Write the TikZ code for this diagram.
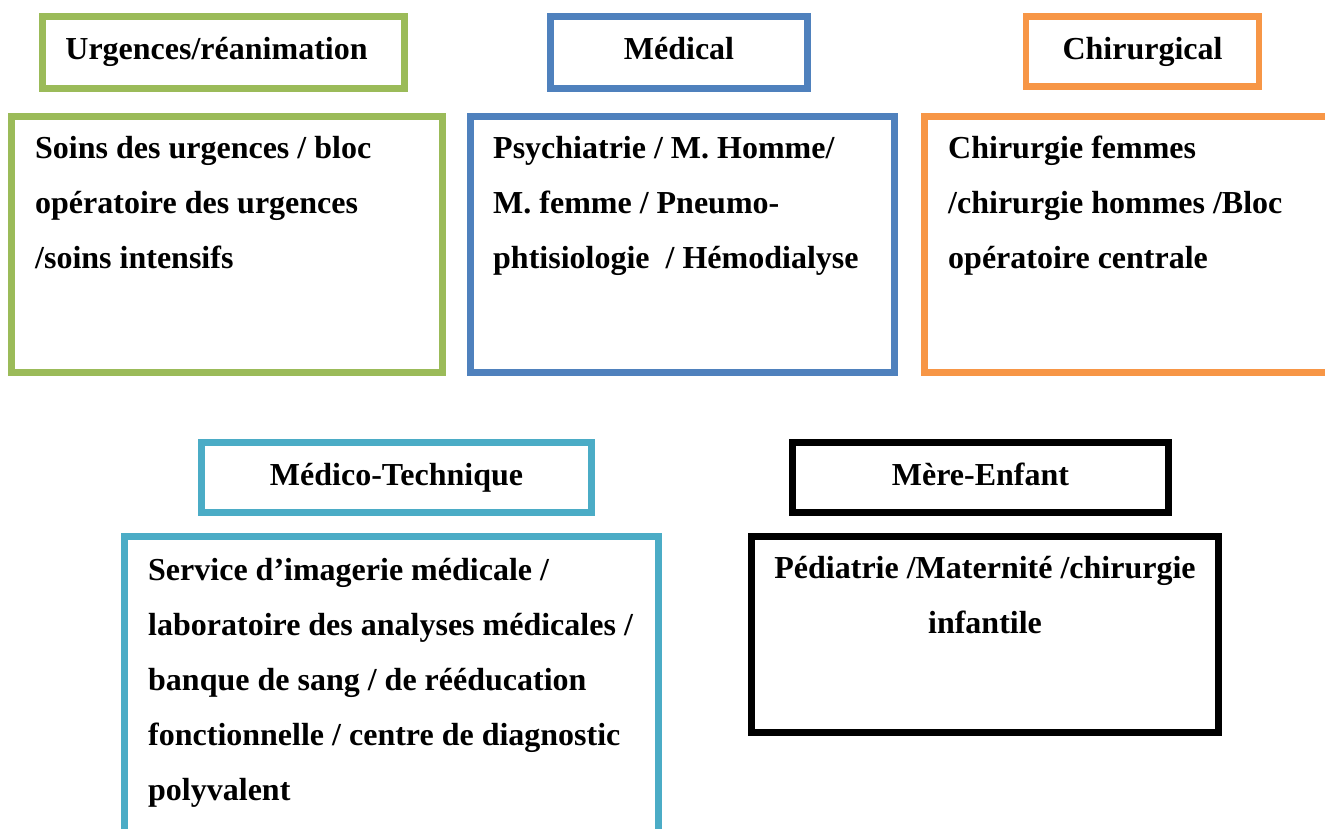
\documentclass[tikz,border=0pt]{standalone}
\usepackage{fontspec}
\setmainfont{Liberation Serif}
\definecolor{cgreen}{HTML}{9BBB59}
\definecolor{cblue}{HTML}{4F81BD}
\definecolor{corange}{HTML}{F79646}
\definecolor{caqua}{HTML}{4BACC6}
\begin{document}
\begin{tikzpicture}[x=1pt,y=-1pt,
  frame/.style={draw=#1, line width=6.5pt, rectangle, inner sep=0pt, fill=none},
  txt/.style={inner sep=0pt, font=\fontsize{32}{55}\selectfont\bfseries},
]
\useasboundingbox (0,0) rectangle (1325,828);
\fill[white] (0,0) rectangle (1325,828);
% headers
\node[frame=cgreen, minimum width=362pt, minimum height=72pt] (urgH) at (223.5,52.5) {};
\node[frame=cblue, minimum width=257pt, minimum height=72pt] (medH) at (679,52.5) {};
\node[frame=corange, minimum width=233pt, minimum height=70pt] (chiH) at (1142.5,51.5) {};
\node[frame=caqua, minimum width=390pt, minimum height=70pt] (mtH) at (396.5,477.5) {};
\node[frame=black, minimum width=376pt, minimum height=70pt] (meH) at (980.5,477.5) {};
% bodies
\node[frame=cgreen, minimum width=431pt, minimum height=256pt] (urgB) at (227,244.5) {};
\node[frame=cblue, minimum width=424pt, minimum height=256pt] (medB) at (682.5,244.5) {};
\node[frame=corange, minimum width=431pt, minimum height=256pt] (chiB) at (1140,244.5) {};
\node[frame=caqua, minimum width=534pt, minimum height=304pt] (mtB) at (391.5,688.5) {};
\node[frame=black, minimum width=467pt, minimum height=196pt] (meB) at (985,634.5) {};
% header texts
\node[txt, anchor=base] (urgT) at (216.5,59.3) {Urgences/réanimation};
\node[txt, anchor=base] (medT) at (medH.center |- 0,59.3) {Médical};
\node[txt, anchor=base] (chiT) at (chiH.center |- 0,59.3) {Chirurgical};
\node[txt, anchor=base] (mtT) at (mtH.center |- 0,485.7) {Médico-Technique};
\node[txt, anchor=base] (meT) at (meH.center |- 0,485.7) {Mère-Enfant};
% body texts (base anchor = baseline of the last line)
\node[txt, anchor=base west, align=left] (urgL) at (35,268.3)
  {Soins des urgences / bloc\\opératoire des urgences\\/soins intensifs};
\node[txt, anchor=base west, align=left] (medL) at (493,268.3)
  {Psychiatrie / M. Homme/\\M. femme / Pneumo-\\phtisiologie\ \ / Hémodialyse};
\node[txt, anchor=base west, align=left] (chiL) at (948,268.3)
  {Chirurgie femmes\\/chirurgie hommes /Bloc\\opératoire centrale};
\node[txt, anchor=base west, align=left] (mtL) at (148,800.3)
  {Service d’imagerie médicale /\\laboratoire des analyses médicales /\\banque de sang / de rééducation\\fonctionnelle / centre de diagnostic\\polyvalent};
\node[txt, anchor=base, align=center] (meL) at (985,633.3)
  {Pédiatrie /Maternité /chirurgie\\infantile};
\end{tikzpicture}
\end{document}
